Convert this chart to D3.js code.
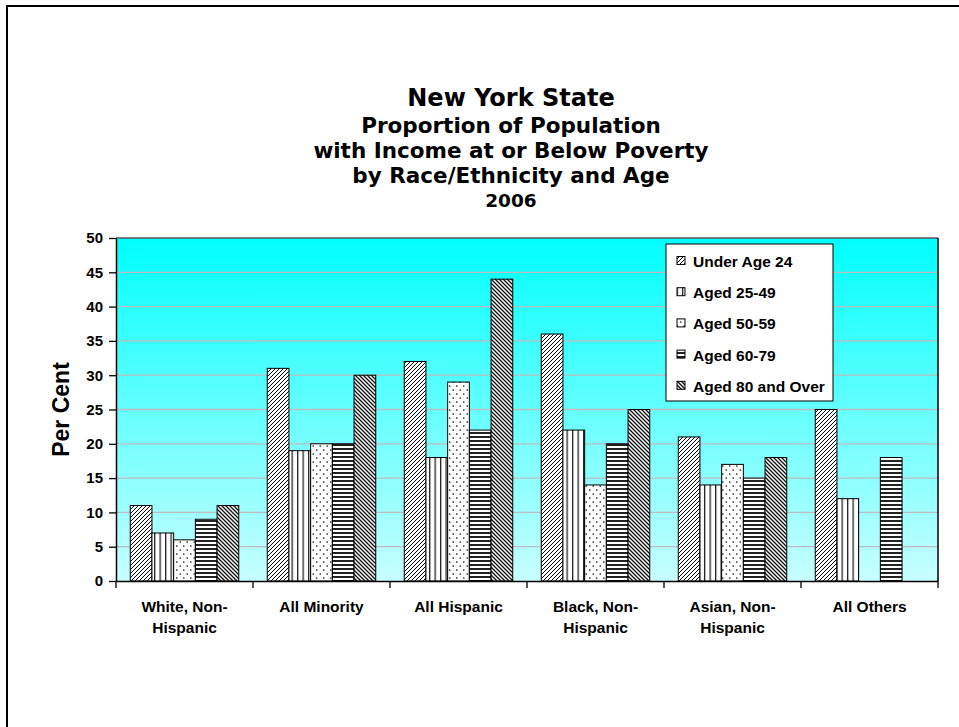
<!DOCTYPE html>
<html>
<head>
<meta charset="utf-8">
<script src="https://d3js.org/d3.v7.min.js"></script>
<style>
  body { margin: 0; background: #fff; }
  svg { display: block; }
</style>
</head>
<body>
<svg id="chart" width="959" height="727"></svg>
<script>
var categories = ["White, Non-Hispanic", "All Minority", "All Hispanic", "Black, Non-Hispanic", "Asian, Non-Hispanic", "All Others"];
var catLines = [["White, Non-", "Hispanic"], ["All Minority"], ["All Hispanic"], ["Black, Non-", "Hispanic"], ["Asian, Non-", "Hispanic"], ["All Others"]];
var series = ["Under Age 24", "Aged 25-49", "Aged 50-59", "Aged 60-79", "Aged 80 and Over"];
var under24 = [11, 31, 32, 36, 21, 25];
var aged2549 = [7, 19, 18, 22, 14, 12];
var aged5059 = [6, 20, 29, 14, 17, null];
var aged6079 = [9, 20, 22, 20, 15, 18];
var aged80 = [11, 30, 44, 25, 18, null];
var yTicks = [0, 5, 10, 15, 20, 25, 30, 35, 40, 45, 50];
var titleLines = ["New York State", "Proportion of Population", "with Income at or Below Poverty", "by Race/Ethnicity and Age", "2006"];

var values = [under24, aged2549, aged5059, aged6079, aged80];

var pLeft = 116, pRight = 938, pTop = 238, pBottom = 581;

var svg = d3.select("#chart");
var defs = svg.append("defs");

// background gradient of the plot area
var grad = defs.append("linearGradient").attr("id", "bg")
    .attr("x1", 0).attr("y1", 0).attr("x2", 0).attr("y2", 1);
grad.append("stop").attr("offset", "0%").attr("stop-color", "#00ffff");
grad.append("stop").attr("offset", "100%").attr("stop-color", "#c8ffff");

// fill patterns, one per series
function pat(id, w, h) {
  var p = defs.append("pattern").attr("id", id)
      .attr("patternUnits", "userSpaceOnUse")
      .attr("width", w).attr("height", h);
  p.append("rect").attr("width", w).attr("height", h).attr("fill", "#fff");
  return p;
}
var p0 = pat("p0", 4, 4);
p0.append("path").attr("d", "M-1,1 L1,-1 M0,4 L4,0 M3,5 L5,3")
  .attr("stroke", "#000").attr("stroke-width", 1);
var p1 = pat("p1", 5.5, 4);
p1.append("rect").attr("x", 0).attr("width", 1.3).attr("height", 4).attr("fill", "#222");
var p2 = pat("p2", 7, 8);
p2.append("circle").attr("cx", 1.75).attr("cy", 2).attr("r", 0.85).attr("fill", "#222");
p2.append("circle").attr("cx", 5.25).attr("cy", 6).attr("r", 0.85).attr("fill", "#222");
var p3 = pat("p3", 4, 4);
p3.append("rect").attr("y", 0).attr("width", 4).attr("height", 2).attr("fill", "#222");
var p4 = pat("p4", 4, 4);
p4.append("path").attr("d", "M-1,3 L1,5 M0,0 L4,4 M3,-1 L5,1")
  .attr("stroke", "#111").attr("stroke-width", 1.35);
var fills = ["url(#p0)", "url(#p1)", "url(#p2)", "url(#p3)", "url(#p4)"];

// outer chart border
svg.append("rect")
   .attr("x", 7).attr("y", 6)
   .attr("width", 980).attr("height", 760)
   .attr("fill", "none").attr("stroke", "#000").attr("stroke-width", 2);

var x = d3.scaleBand().domain(categories).range([pLeft, pRight]);
var xs = d3.scaleBand().domain(series)
         .range([14.25, x.bandwidth() - 14.25]);
var y = d3.scaleLinear().domain([0, 50]).range([pBottom, pTop]);

// plot area
svg.append("rect")
   .attr("x", pLeft).attr("y", pTop)
   .attr("width", pRight - pLeft).attr("height", pBottom - pTop)
   .attr("fill", "url(#bg)");

svg.append("g").selectAll("line")
   .data(yTicks.filter(d => d > 0 && d < 50))
   .enter().append("line")
   .attr("x1", pLeft).attr("x2", pRight)
   .attr("y1", d => y(d)).attr("y2", d => y(d))
   .attr("stroke", "#bdbdbd").attr("stroke-width", 1.3);

svg.append("path")
   .attr("d", "M" + pLeft + "," + pTop + "H" + pRight)
   .attr("fill", "none").attr("stroke", "#555").attr("stroke-width", 1.5);
svg.append("path")
   .attr("d", "M" + pRight + "," + pTop + "V" + pBottom)
   .attr("fill", "none").attr("stroke", "#000").attr("stroke-width", 1.5);

// bars
var g = svg.append("g");
categories.forEach(function(c, i) {
  series.forEach(function(s, j) {
    var v = values[j][i];
    if (v == null) return;
    g.append("rect")
     .attr("x", x(c) + xs(s))
     .attr("y", y(v))
     .attr("width", xs.bandwidth())
     .attr("height", pBottom - y(v))
     .attr("fill", fills[j])
     .attr("stroke", "#000")
     .attr("stroke-width", 1);
  });
});

// y axis
var yAxis = svg.append("g")
   .attr("transform", "translate(" + pLeft + ",0)")
   .call(d3.axisLeft(y).tickValues(yTicks).tickSize(7).tickSizeOuter(0).tickPadding(6));
yAxis.select(".domain").attr("stroke", "#000").attr("stroke-width", 1.5);
yAxis.selectAll(".tick line").attr("stroke", "#000").attr("stroke-width", 1.3);
yAxis.selectAll("text")
   .attr("font-family", "'Liberation Sans', Arial, sans-serif")
   .attr("font-weight", "bold").attr("font-size", "15px").attr("fill", "#000");

// x axis
var xAxis = svg.append("g")
   .attr("transform", "translate(0," + pBottom + ")")
   .call(d3.axisBottom(x).tickSize(0).tickSizeOuter(0).tickPadding(0));
xAxis.select(".domain").attr("stroke", "#000").attr("stroke-width", 1.5);
xAxis.selectAll(".tick text").each(function(d, i) {
  var t = d3.select(this).text(null).attr("y", 0).attr("dy", null)
     .attr("font-family", "'Liberation Sans', Arial, sans-serif")
     .attr("font-weight", "bold").attr("font-size", "15.5px").attr("fill", "#000");
  catLines[i].forEach(function(line, k) {
    t.append("tspan").attr("x", 0).attr("y", 31 + k * 21).text(line);
  });
});
var bounds = categories.map(c => x(c)).concat([pRight]);
xAxis.selectAll(".bound").data(bounds).enter().append("line")
   .attr("class", "bound")
   .attr("x1", d => d).attr("x2", d => d)
   .attr("y1", 0).attr("y2", 7)
   .attr("stroke", "#000").attr("stroke-width", 1.3);

// y axis title
svg.append("text")
   .attr("transform", "translate(69," + ((pTop + pBottom) / 2) + ") rotate(-90)")
   .attr("text-anchor", "middle")
   .attr("font-family", "'Liberation Sans', Arial, sans-serif")
   .attr("font-weight", "bold").attr("font-size", "23px")
   .text("Per Cent");

// title
var tSizes = [24, 21.5, 21.5, 21.5, 18.5];
var tBase = [106, 133, 158, 183, 207];
svg.append("g").selectAll("text")
   .data(titleLines).enter().append("text")
   .attr("x", 511).attr("y", (d, i) => tBase[i])
   .attr("text-anchor", "middle")
   .attr("font-family", "'DejaVu Sans', Verdana, sans-serif")
   .attr("font-weight", "bold")
   .attr("font-size", (d, i) => tSizes[i] + "px")
   .text(d => d);

// legend
var leg = svg.append("g");
leg.append("rect")
   .attr("x", 666).attr("y", 244).attr("width", 167).attr("height", 157)
   .attr("fill", "#fff").attr("stroke", "#000").attr("stroke-width", 1);
series.forEach(function(s, j) {
  var by = 267 + j * 31.2;
  leg.append("rect")
     .attr("x", 677).attr("y", by - 10.5).attr("width", 8).attr("height", 8)
     .attr("fill", fills[j]).attr("stroke", "#000").attr("stroke-width", 1);
  leg.append("text")
     .attr("x", 693).attr("y", by)
     .attr("font-family", "'Liberation Sans', Arial, sans-serif")
     .attr("font-weight", "bold").attr("font-size", "15.5px")
     .text(s);
});
</script>
</body>
</html>
